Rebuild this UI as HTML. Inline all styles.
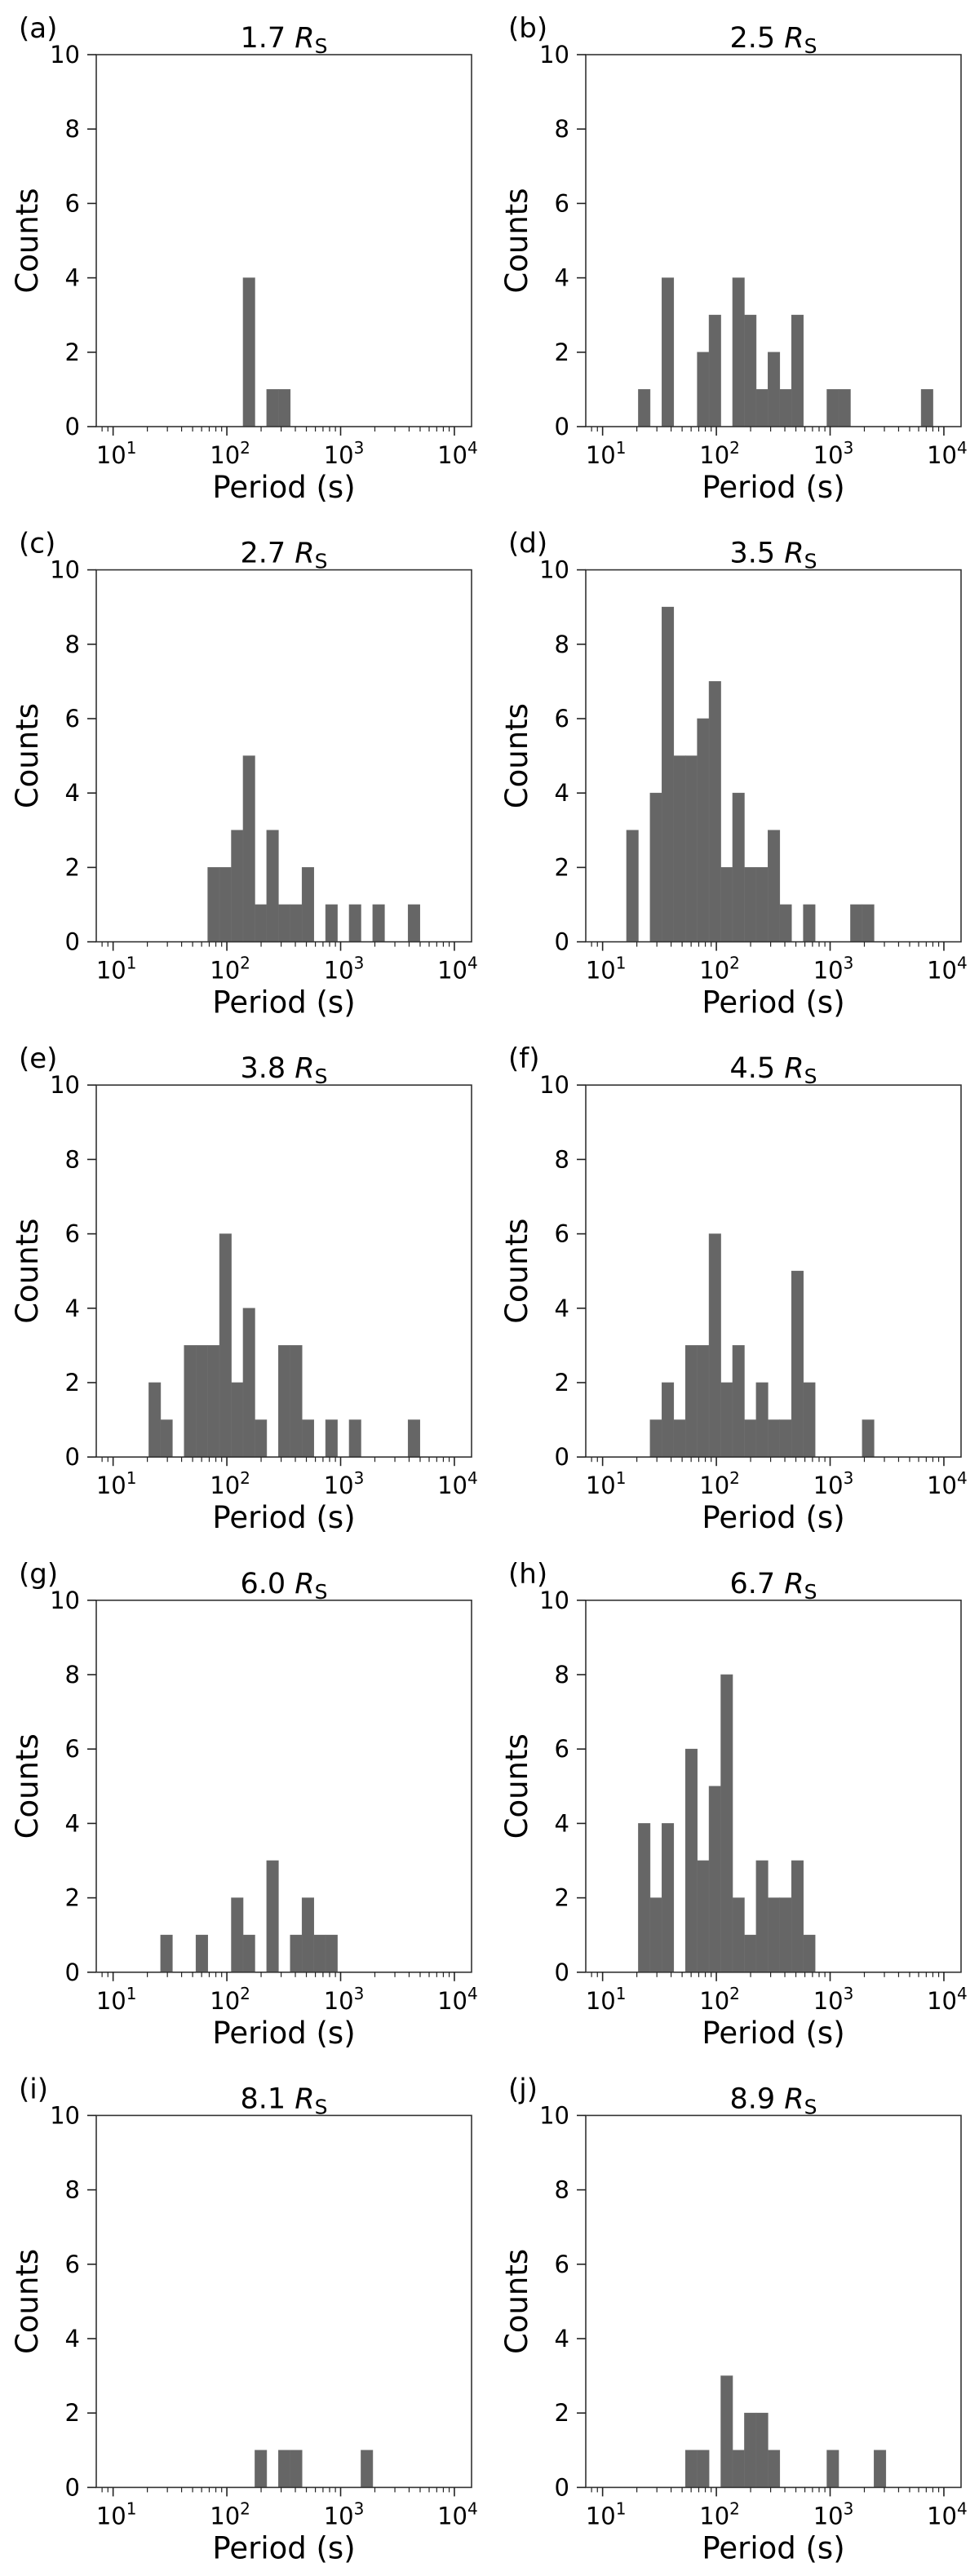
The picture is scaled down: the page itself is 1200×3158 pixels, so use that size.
<!DOCTYPE html>
<html><head><meta charset="utf-8">
<style>
html,body{margin:0;padding:0;background:#fff;}
svg{display:block;font-family:"DejaVu Sans","Liberation Sans",sans-serif;}
</style></head>
<body>
<svg id="fig" width="1200" height="3158" viewBox="0 0 1200 3158" xmlns="http://www.w3.org/2000/svg"></svg>
<script>
// ---- data ----
const panelLetters = ["a","b","c","d","e","f","g","h","i","j"];
const panelRadii = ["1.7","2.5","2.7","3.5","3.8","4.5","6.0","6.7","8.1","8.9"];
const binStartLog = 1.2105;   // log10 of first bin edge (s)
const binWidthLog = 0.1036;   // bin width in log10 units
const countsA = [0,0,0,0,0,0,0,0,0,4,0,1,1,0,0,0,0,0,0,0,0,0,0,0,0,0];
const countsB = [0,1,0,4,0,0,2,3,0,4,3,1,2,1,3,0,0,1,1,0,0,0,0,0,0,1];
const countsC = [0,0,0,0,0,0,2,2,3,5,1,3,1,1,2,0,1,0,1,0,1,0,0,1,0,0];
const countsD = [3,0,4,9,5,5,6,7,2,4,2,2,3,1,0,1,0,0,0,1,1,0,0,0,0,0];
const countsE = [0,2,1,0,3,3,3,6,2,4,1,0,3,3,1,0,1,0,1,0,0,0,0,1,0,0];
const countsF = [0,0,1,2,1,3,3,6,2,3,1,2,1,1,5,2,0,0,0,0,1,0,0,0,0,0];
const countsG = [0,0,1,0,0,1,0,0,2,1,0,3,0,1,2,1,1,0,0,0,0,0,0,0,0,0];
const countsH = [0,4,2,4,0,6,3,5,8,2,1,3,2,2,3,1,0,0,0,0,0,0,0,0,0,0];
const countsI = [0,0,0,0,0,0,0,0,0,0,1,0,1,1,0,0,0,0,0,1,0,0,0,0,0,0];
const countsJ = [0,0,0,0,0,1,1,0,3,1,2,2,1,0,0,0,0,1,0,0,0,1,0,0,0,0];
const allCounts = [countsA,countsB,countsC,countsD,countsE,countsF,countsG,countsH,countsI,countsJ];
const yTicks = [0,2,4,6,8,10];
const xDecades = [1,2,3,4];

// ---- layout ----
const NS = "http://www.w3.org/2000/svg";
const svg = document.getElementById("fig");
const XMIN = 0.852, XMAX = 4.151, YMAX = 10;
const AX_W = 460, AX_H = 456;
function mk(tag, attrs, parent){
  const e = document.createElementNS(NS, tag);
  for (const k in attrs) e.setAttribute(k, attrs[k]);
  (parent||svg).appendChild(e);
  return e;
}
allCounts.forEach((counts, p) => {
  const col = p % 2, row = Math.floor(p / 2);
  const left = 118 + 600 * col;
  const bottom = 523 + 631.6 * row;
  const top = bottom - AX_H;
  const xs = v => left + (v - XMIN) / (XMAX - XMIN) * AX_W;
  const ys = c => bottom - c / YMAX * AX_H;
  const g = mk("g", {});
  
  

  counts.forEach((c, k) => {
    if (c <= 0) return;
    const x0 = xs(binStartLog + k * binWidthLog), x1 = xs(binStartLog + (k + 1) * binWidthLog);
    const r = mk("rect", {x: x0, y: ys(c), width: x1 - x0, height: ys(0) - ys(c), fill: "#666666", stroke: "#6e6e6e", "stroke-width": 0.6}, g);
    
    
  });

  const fr = mk("rect", {x: left, y: top, width: AX_W, height: AX_H, fill: "none", stroke: "#333", "stroke-width": 1.6}, g);
  
  

  yTicks.forEach(t => {
    const y = ys(t);
    mk("line", {x1: left - 11, x2: left, y1: y, y2: y, stroke: "#222", "stroke-width": 1.6}, g);
    const tx = mk("text", {x: left - 20, y: y + 10, "text-anchor": "end", "font-size": 29, fill: "#000"}, g);
    tx.textContent = String(t);
    
    
  });

  for (let d = 0; d <= 4; d++) {
    for (let m = 1; m <= 9; m++) {
      const v = d + Math.log10(m);
      if (v < XMIN || v > XMAX) continue;
      const x = xs(v), major = m === 1;
      mk("line", {x1: x, x2: x, y1: bottom, y2: bottom + (major ? 11 : 6), stroke: "#222", "stroke-width": major ? 1.6 : 1.2}, g);
    }
  }
  xDecades.forEach(d => {
    const tx = mk("text", {x: xs(d) + 4, y: bottom + 45, "text-anchor": "middle", "font-size": 29, fill: "#000"}, g);
    
    
    const a = mk("tspan", {}, tx); a.textContent = "10";
    const b = mk("tspan", {dy: -12, "font-size": 20}, tx); b.textContent = String(d);
  });

  const xl = mk("text", {x: left + AX_W / 2, y: bottom + 87, "text-anchor": "middle", "font-size": 37, fill: "#000"}, g);
  xl.textContent = "Period (s)";
  
  
  const cy = top + AX_H / 2, cx = left - 72;
  const yl = mk("text", {x: cx, y: cy, "text-anchor": "middle", "font-size": 37, fill: "#000", transform: "rotate(-90 " + cx + " " + cy + ")"}, g);
  yl.textContent = "Counts";
  
  

  const tt = mk("text", {x: left + AX_W / 2, y: top - 9, "text-anchor": "middle", "font-size": 35, fill: "#000"}, g);
  
  
  const t1 = mk("tspan", {}, tt); t1.textContent = panelRadii[p] + " ";
  const t2 = mk("tspan", {"font-style": "italic"}, tt); t2.textContent = "R";
  const t3 = mk("tspan", {dy: 7, "font-size": 25}, tt); t3.textContent = "S";

  const pl = mk("text", {x: left - 95, y: top - 21, "font-size": 34, fill: "#000"}, g);
  pl.textContent = "(" + panelLetters[p] + ")";
  
  
});
</script>
</body></html>
